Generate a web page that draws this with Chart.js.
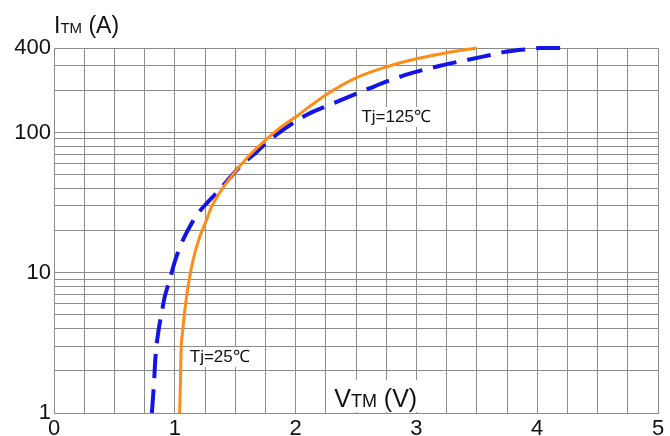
<!DOCTYPE html>
<html>
<head>
<meta charset="utf-8">
<script src="https://cdn.jsdelivr.net/npm/chart.js@4"></script>
<style>
    html, body { margin: 0; padding: 0; background: #fff; }
    #wrap { width: 670px; height: 436px; }
</style>
</head>
<body>
<div id="wrap"><canvas id="vtmChart" width="670" height="436"></canvas></div>
<script>
// Forward characteristic, data

// Tj = 25 C (orange, solid)
const vtm25 = [1.04, 1.047, 1.052, 1.063, 1.083, 1.11, 1.151, 1.207, 1.262, 1.30, 1.37, 1.48, 1.62, 1.75, 1.86, 2.0, 2.25, 2.5, 2.75, 3.0, 3.25, 3.5];
const itm25 = [1, 1.72, 2.8, 3.7, 5.4, 8, 12.3, 18.1, 23.7, 29, 37, 50, 69, 88, 106, 129, 185, 245, 293, 335, 370, 400];

// Tj = 125 C (blue, dashed)
const vtm125 = [0.81, 0.826, 0.84, 0.862, 0.89, 0.917, 0.953, 1.0, 1.055, 1.124, 1.193, 1.275, 1.37, 1.46, 1.565, 1.68, 1.81, 2.09, 2.28, 2.61, 2.91, 3.22, 3.55, 3.74, 3.93, 4.03, 4.24];
const itm125 = [1, 1.54, 2.5, 3.7, 5.1, 6.75, 8.6, 12, 16.2, 21.3, 26.5, 32, 39, 48, 60, 73, 92, 133, 157, 206, 257, 302, 347, 376, 393, 400, 400];

// Axis ticks
const yGridValues = [1, 2, 3, 4, 5, 6, 7, 8, 9, 10, 20, 30, 40, 50, 60, 70, 80, 90, 100, 200, 300, 400];
const yTickLabels = [1, 10, 100, 400];
const xTickLabels = [0, 1, 2, 3, 4, 5];

// Curve labels (anchored in data units)
const curveLabels = ["Tj=125\u2103", "Tj=25\u2103"];
const curveLabelX = [2.545, 1.124];
const curveLabelY = [129, 2.5];

const FONT = "'Liberation Sans', Arial, sans-serif";
const GRID = '#8c8c8c';

function toPoints(xs, ys) {
    return xs.map((x, i) => ({ x: x, y: ys[i] }));
}

// Draws text made of pieces with different font sizes on one baseline
function drawMixed(ctx, parts, x, y) {
    let cx = x;
    parts.forEach(p => {
        ctx.font = p.size + 'px ' + FONT;
        ctx.fillText(p.t, cx, y);
        cx += ctx.measureText(p.t).width;
    });
    return cx - x;
}

function measureMixed(ctx, parts) {
    let w = 0;
    parts.forEach(p => {
        ctx.font = p.size + 'px ' + FONT;
        w += ctx.measureText(p.t).width;
    });
    return w;
}

const textPlugin = {
    id: 'textPlugin',
    beforeDatasetsDraw(chart) {
        const { ctx, scales } = chart;
        ctx.save();
        ctx.textBaseline = 'alphabetic';
        ctx.textAlign = 'left';

        // X axis title inside plot with white box
        const vParts = [{ t: 'V', size: 25 }, { t: 'TM', size: 18 }, { t: ' (V)', size: 25 }];
        const vw = measureMixed(ctx, vParts);
        const vx = scales.x.getPixelForValue(2.32);
        const vy = scales.y.bottom - 6;
        ctx.fillStyle = '#fff';
        ctx.fillRect(vx - 3, vy - 27, vw + 6, 32);
        ctx.fillStyle = '#111';
        drawMixed(ctx, vParts, vx, vy);

        // Curve labels
        ctx.textBaseline = 'middle';
        curveLabels.forEach((txt, i) => {
            const px = scales.x.getPixelForValue(curveLabelX[i]);
            const py = scales.y.getPixelForValue(curveLabelY[i]);
            ctx.font = '17px ' + FONT;
            const w = ctx.measureText(txt).width;
            ctx.fillStyle = '#fff';
            ctx.fillRect(px - 4, py - 10, w + 8, 20);
            ctx.fillStyle = '#111';
            ctx.fillText(txt, px, py);
        });
        ctx.restore();
    },
    afterDraw(chart) {
        const { ctx } = chart;
        ctx.save();
        ctx.textBaseline = 'alphabetic';
        ctx.fillStyle = '#111';
        drawMixed(ctx, [{ t: 'I', size: 23 }, { t: 'TM', size: 15 }, { t: ' (A)', size: 23 }], 54, 33);
        ctx.restore();
    }
};

new Chart(document.getElementById('vtmChart'), {
    type: 'scatter',
    data: {
        datasets: [
            {
                label: 'Tj=25',
                data: toPoints(vtm25, itm25),
                showLine: true,
                borderColor: '#ff8c14',
                borderWidth: 3,
                pointRadius: 0,
                cubicInterpolationMode: 'monotone',
                clip: false
            },
            {
                label: 'Tj=125',
                data: toPoints(vtm125, itm125),
                showLine: true,
                borderColor: '#1414e6',
                borderWidth: 4,
                borderDash: [24, 11],
                pointRadius: 0,
                cubicInterpolationMode: 'monotone',
                clip: false
            }
        ]
    },
    options: {
        responsive: false,
        animation: false,
        devicePixelRatio: 1,
        layout: { padding: { top: 48, right: 12, left: 0, bottom: 0 } },
        plugins: {
            legend: { display: false },
            tooltip: { enabled: false }
        },
        scales: {
            x: {
                type: 'linear',
                min: 0,
                max: 5,
                afterFit: s => { s.height = 23; },
                afterBuildTicks: axis => {
                    const t = [];
                    for (let i = 0; i <= 20; i++) t.push({ value: i * 0.25 });
                    axis.ticks = t;
                },
                grid: { color: GRID, lineWidth: 1, drawTicks: false },
                border: { color: GRID },
                ticks: {
                    autoSkip: false,
                    maxRotation: 0,
                    padding: 3,
                    color: '#111',
                    font: { family: FONT, size: 22 },
                    callback: v => xTickLabels.includes(v) ? String(v) : ''
                }
            },
            y: {
                type: 'logarithmic',
                min: 1,
                max: 400,
                afterFit: s => { s.width = 54; },
                afterBuildTicks: axis => {
                    axis.ticks = yGridValues.map(v => ({ value: v }));
                },
                grid: { color: GRID, lineWidth: 1, drawTicks: false },
                border: { color: GRID },
                ticks: {
                    autoSkip: false,
                    padding: 3,
                    color: '#111',
                    font: { family: FONT, size: 22 },
                    callback: v => yTickLabels.includes(v) ? String(v) : ''
                }
            }
        }
    },
    plugins: [textPlugin]
});
</script>
</body>
</html>
